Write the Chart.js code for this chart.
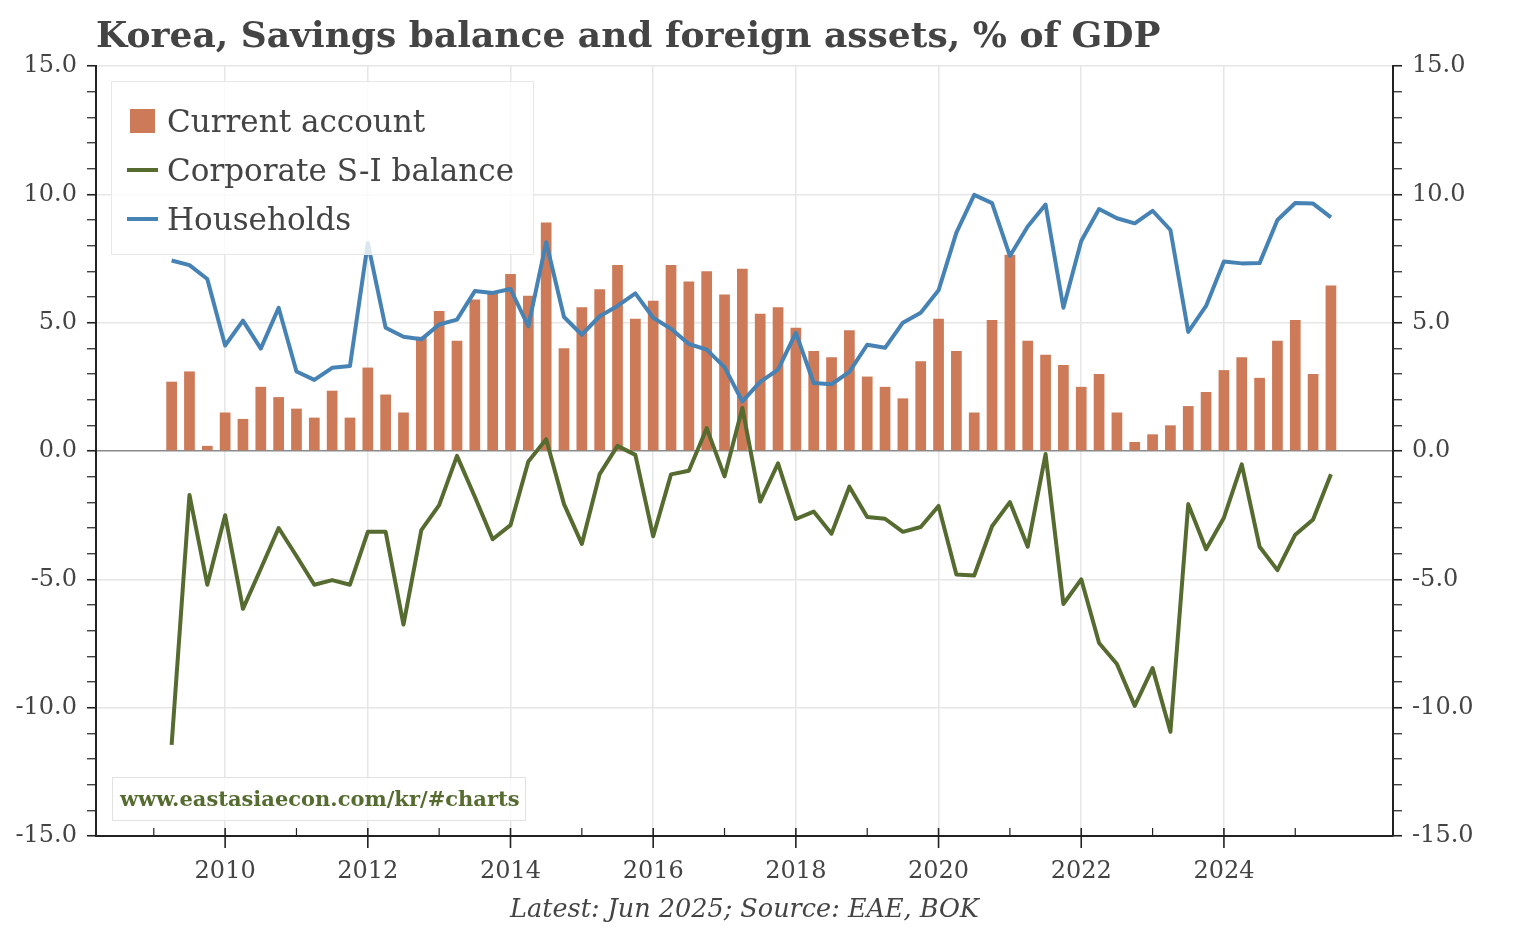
<!DOCTYPE html>
<html>
<head>
<meta charset="utf-8">
<title>Korea, Savings balance and foreign assets, % of GDP</title>
<script src="https://cdn.jsdelivr.net/npm/chart.js@4.4.1/dist/chart.umd.min.js"></script>
<style>
  body { margin: 0; background: #fff; }
  #wrap { position: relative; width: 1534px; height: 930px; font-family: "DejaVu Serif", serif; color: #444; }
  #chart { position: absolute; left: 0; top: 0; }
  #title { position: absolute; left: 96px; top: 16px; font-weight: bold; font-size: 36px; line-height: 36px; white-space: nowrap; }
  #legend { position: absolute; left: 111px; top: 81px; width: 423px; height: 174px; box-sizing: border-box;
            border: 1px solid #e8e8e8; background: rgba(255,255,255,0.8); padding-top: 15px; }
  .row { position: relative; height: 49px; line-height: 49px; font-size: 31px; white-space: nowrap; padding-left: 55px; }
  .sq { position: absolute; left: 18px; top: 12px; width: 25px; height: 24px; background: #cc7a57; }
  .ln { position: absolute; left: 15px; top: 22px; width: 31px; height: 4px; }
  #mark { position: absolute; left: 112px; top: 777px; width: 414px; height: 44px; box-sizing: border-box;
          border: 1px solid #e2e2e2; background: rgba(255,255,255,0.8); padding-left: 7px;
          font-weight: bold; font-size: 21px; line-height: 42px; color: #556b2f; white-space: nowrap; }
</style>
</head>
<body>
<div id="wrap">
  <canvas id="chart" width="1534" height="930"></canvas>
  <div id="title">Korea, Savings balance and foreign assets, % of GDP</div>
  <div id="legend">
    <div class="row"><span class="sq"></span>Current account</div>
    <div class="row"><span class="ln" style="background:#556b2f"></span>Corporate S-I balance</div>
    <div class="row"><span class="ln" style="background:#4682b4"></span>Households</div>
  </div>
  <div id="mark">www.eastasiaecon.com/kr/#charts</div>
</div>
<script>
//----- data (quarterly, % of GDP) -----//
var quarters = [
  "2009Q1","2009Q2","2009Q3","2009Q4",
  "2010Q1","2010Q2","2010Q3","2010Q4",
  "2011Q1","2011Q2","2011Q3","2011Q4",
  "2012Q1","2012Q2","2012Q3","2012Q4",
  "2013Q1","2013Q2","2013Q3","2013Q4",
  "2014Q1","2014Q2","2014Q3","2014Q4",
  "2015Q1","2015Q2","2015Q3","2015Q4",
  "2016Q1","2016Q2","2016Q3","2016Q4",
  "2017Q1","2017Q2","2017Q3","2017Q4",
  "2018Q1","2018Q2","2018Q3","2018Q4",
  "2019Q1","2019Q2","2019Q3","2019Q4",
  "2020Q1","2020Q2","2020Q3","2020Q4",
  "2021Q1","2021Q2","2021Q3","2021Q4",
  "2022Q1","2022Q2","2022Q3","2022Q4",
  "2023Q1","2023Q2","2023Q3","2023Q4",
  "2024Q1","2024Q2","2024Q3","2024Q4",
  "2025Q1","2025Q2"
];

var currentAccount = [
  2.7, 3.1, 0.2, 1.5,
  1.25, 2.5, 2.1, 1.65,
  1.3, 2.35, 1.3, 3.25,
  2.2, 1.5, 4.45, 5.45,
  4.3, 5.9, 6.2, 6.9,
  6.05, 8.9, 4.0, 5.6,
  6.3, 7.25, 5.15, 5.85,
  7.25, 6.6, 7.0, 6.1,
  7.1, 5.35, 5.6, 4.8,
  3.9, 3.65, 4.7, 2.9,
  2.5, 2.05, 3.5, 5.15,
  3.9, 1.5, 5.1, 7.65,
  4.3, 3.75, 3.35, 2.5,
  3.0, 1.5, 0.35, 0.65,
  1.0, 1.75, 2.3, 3.15,
  3.65, 2.85, 4.3, 5.1,
  3.0, 6.45
];

var corporate = [
  -11.45, -1.71, -5.21, -2.5,
  -6.15, -4.59, -3.0, -4.09,
  -5.21, -5.03, -5.21, -3.15,
  -3.15, -6.76, -3.08, -2.11,
  -0.19, -1.78, -3.44, -2.89,
  -0.41, 0.46, -2.07, -3.62,
  -0.9, 0.2, -0.15, -3.32,
  -0.91, -0.77, 0.89, -0.99,
  1.68, -1.97, -0.48, -2.65,
  -2.36, -3.22, -1.39, -2.57,
  -2.64, -3.15, -2.96, -2.14,
  -4.81, -4.85, -2.93, -1.99,
  -3.73, -0.12, -5.96, -5.0,
  -7.48, -8.3, -9.93, -8.46,
  -10.94, -2.07, -3.83, -2.6,
  -0.52, -3.73, -4.64, -3.26,
  -2.67, -0.91
];

var households = [
  7.42, 7.24, 6.7, 4.11,
  5.08, 3.99, 5.58, 3.1,
  2.77, 3.24, 3.31, 8.1,
  4.8, 4.45, 4.35, 4.93,
  5.12, 6.23, 6.16, 6.31,
  4.86, 8.13, 5.22, 4.53,
  5.25, 5.65, 6.14, 5.19,
  4.76, 4.17, 3.95, 3.27,
  1.93, 2.69, 3.17, 4.6,
  2.65, 2.6, 3.08, 4.14,
  4.02, 5.0, 5.39, 6.26,
  8.51, 9.98, 9.66, 7.6,
  8.75, 9.6, 5.58, 8.18,
  9.43, 9.07, 8.87, 9.36,
  8.61, 4.64, 5.65, 7.38,
  7.31, 7.32, 9.0, 9.66,
  9.64, 9.1
];

// axis ranges
var xMin = 2008.19, xMax = 2026.37, lastTickYear = 2025;
var yMin = -15, yMax = 15;

//----- helpers -----//
// quarter end as decimal year (Q4 ends at the next year's start)
function quarterToYear (q) {
  return parseInt(q.slice(0, 4)) + parseInt(q.slice(5)) * 0.25;
}
function points (values) {
  var out = [];
  for (var i = 0; i < quarters.length; i++) {
    out.push({ x: quarterToYear(quarters[i]), y: values[i] });
  }
  return out;
}
function isInt (v) { return Math.abs(v - Math.round(v)) < 1e-6; }
function isEvenYear (v) { return isInt(v) && Math.round(v) % 2 === 0 && v <= lastTickYear; }
function isFive (v) { return isInt(v) && Math.round(v) % 5 === 0; }

// x tick marks: long (in + out) on even years, short inward on odd years
var xTickMarks = {
  id: "xTickMarks",
  afterDraw: function (chart) {
    var xs = chart.scales.x, a = chart.chartArea, c = chart.ctx;
    c.save();
    c.strokeStyle = "#222";
    for (var yr = Math.ceil(xs.min); yr <= lastTickYear; yr++) {
      var px = xs.getPixelForValue(yr);
      c.lineWidth = yr % 2 === 0 ? 1.6 : 1.2;
      c.beginPath();
      c.moveTo(px, a.bottom - 8);
      c.lineTo(px, yr % 2 === 0 ? a.bottom + 12 : a.bottom);
      c.stroke();
    }
    c.restore();
  }
};

Chart.defaults.font.family = "'DejaVu Serif', serif";
Chart.defaults.color = "#444";

function yAxis (pos, width, showGrid) {
  return {
    type: "linear",
    position: pos,
    min: yMin,
    max: yMax,
    afterFit: function (s) { s.width = width; },
    border: { display: true, color: "#222", width: 2 },
    grid: {
      drawOnChartArea: showGrid,
      drawTicks: true,
      tickLength: 9,
      color: function (ctx) {
        var v = ctx.tick ? ctx.tick.value : NaN;
        if (!isFive(v)) return "rgba(0,0,0,0)";
        return Math.round(v) === 0 ? "#8a8a8a" : "#e6e6e6";
      },
      lineWidth: 1.5,
      tickColor: "#222",
      tickWidth: function (ctx) { return isFive(ctx.tick.value) ? 1.6 : 1.2; }
    },
    ticks: {
      stepSize: 1,
      autoSkip: false,
      padding: 10,
      font: { size: 24 },
      color: "#444",
      callback: function (v) { return isFive(v) ? Number(v).toFixed(1) : ""; }
    }
  };
}

var ctx = document.getElementById("chart");
var myChart = new Chart(ctx, {
  type: "bar",
  data: {
    datasets: [
      {
        type: "line",
        label: "Households",
        data: points(households),
        borderColor: "#4682b4",
        borderWidth: 4,
        pointRadius: 0,
        tension: 0,
        borderJoinStyle: "round",
        order: 0
      },
      {
        type: "line",
        label: "Corporate S-I balance",
        data: points(corporate),
        borderColor: "#556b2f",
        borderWidth: 4,
        pointRadius: 0,
        tension: 0,
        borderJoinStyle: "round",
        order: 1
      },
      {
        type: "bar",
        label: "Current account",
        data: points(currentAccount),
        backgroundColor: "#cc7a57",
        borderWidth: 0,
        categoryPercentage: 1.0,
        barPercentage: 0.6,
        order: 2
      }
    ]
  },
  options: {
    responsive: false,
    animation: false,
    layout: { padding: { top: 66, left: 0, right: 0, bottom: 0 } },
    plugins: { legend: { display: false }, tooltip: { enabled: false } },
    scales: {
      x: {
        type: "linear",
        min: xMin,
        max: xMax,
        offset: false,
        afterFit: function (s) { s.height = 94; },
        border: { display: true, color: "#222", width: 2 },
        grid: {
          offset: false,
          drawTicks: false,
          color: function (ctx) { return ctx.tick && isEvenYear(ctx.tick.value) ? "#e6e6e6" : "rgba(0,0,0,0)"; },
          lineWidth: 1.5
        },
        ticks: {
          stepSize: 1,
          autoSkip: false,
          includeBounds: false,
          maxRotation: 0,
          padding: 21,
          font: { size: 24 },
          color: "#444",
          callback: function (v) { return isEvenYear(v) ? String(Math.round(v)) : ""; }
        },
        title: {
          display: true,
          text: "Latest: Jun 2025; Source: EAE, BOK",
          font: { size: 25.5, style: "italic" },
          color: "#444",
          padding: { top: 0, bottom: 4 }
        }
      },
      y: yAxis("left", 96, true),
      y2: yAxis("right", 141, false)
    }
  },
  plugins: [xTickMarks]
});
</script>
</body>
</html>
